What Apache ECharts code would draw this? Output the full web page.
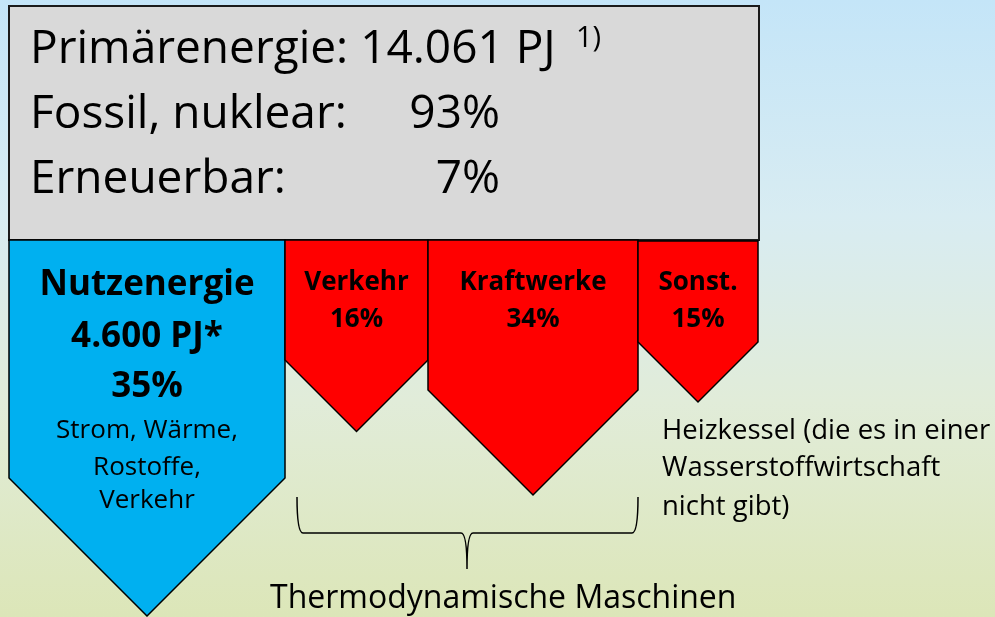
<!DOCTYPE html>
<html>
<head>
<meta charset="utf-8">
<script src="https://cdn.jsdelivr.net/npm/echarts@6/dist/echarts.min.js"></script>
<style>
  html, body { margin: 0; padding: 0; }
  #chart { width: 995px; height: 617px; }
</style>
</head>
<body>
<div id="chart"></div>
<script>
// Aufteilung der Primärenergie
const names = ["Nutzenergie", "Verkehr", "Kraftwerke", "Sonst."];
const shares = [35, 16, 34, 15];
const colors = ["#00b0f0", "#ff0000", "#ff0000", "#ff0000"];
// Pfeile: linker/rechter Rand und Schulter (Spitze liegt 45° darunter)
const arrowLeft = [9, 285, 428, 638];
const arrowRight = [285, 428, 638, 758];
const arrowShoulder = [478, 360, 390, 342];
const arrowTop = [240, 240, 240, 241];
// Kasten Primärenergie
const boxRange = [9, 759, 6, 240];
// Klammer "Thermodynamische Maschinen"
const brace = [297, 638, 497, 533, 569];

const FONT = "'Open Sans', sans-serif";
const mid = (baseline, size) => baseline - 0.36 * size;

let chart = echarts.init(document.getElementById("chart"));

function txt(str, x, baseline, size, opts) {
  opts = opts || {};
  return {
    type: "text",
    x: x,
    y: mid(baseline, size),
    z: 100,
    silent: true,
    style: {
      text: str,
      fill: "#000",
      fontFamily: FONT,
      fontSize: size,
      fontWeight: opts.bold ? "bold" : "normal",
      align: opts.align || "left",
      verticalAlign: "middle"
    }
  };
}

const option = {
  backgroundColor: new echarts.graphic.LinearGradient(0, 0, 0, 1, [
    { offset: 0, color: "#c4e5f8" },
    { offset: 0.35, color: "#d8ecf2" },
    { offset: 0.65, color: "#e1ecd9" },
    { offset: 1, color: "#dce6b8" }
  ]),
  animation: false,
  grid: { left: 0, right: 0, top: 0, bottom: 0 },
  xAxis: { type: "value", min: 0, max: 995, show: false },
  yAxis: { type: "value", min: 0, max: 617, inverse: true, show: false },
  series: [
    {
      // grauer Kasten
      type: "custom",
      data: [boxRange],
      renderItem(params, api) {
        const a = api.coord([api.value(0), api.value(2)]);
        const b = api.coord([api.value(1), api.value(3)]);
        return {
          type: "rect",
          shape: { x: a[0], y: a[1], width: b[0] - a[0], height: b[1] - a[1] },
          style: { fill: "#d9d9d9", stroke: "#1a1a1a", lineWidth: 2 }
        };
      }
    },
    {
      // Pfeile
      type: "custom",
      data: names.map((n, i) => [arrowLeft[i], arrowRight[i], arrowShoulder[i], arrowTop[i], shares[i]]),
      renderItem(params, api) {
        const i = params.dataIndex;
        const x0 = api.value(0), x1 = api.value(1), sh = api.value(2), top = api.value(3);
        const xm = (x0 + x1) / 2;
        const tip = sh + (x1 - x0) / 2;
        const pts = [[x0, top], [x1, top], [x1, sh], [xm, tip], [x0, sh]].map(p => api.coord(p));
        const c = api.coord([xm, top]);
        const children = [{
          type: "polygon",
          shape: { points: pts },
          style: { fill: colors[i], stroke: "#000", lineWidth: 1.5 }
        }];
        if (i === 0) {
          children.push(txt(names[i], c[0], 298, 35, { bold: true, align: "center" }));
          children.push(txt("4.600 PJ*", c[0], 350, 35, { bold: true, align: "center" }));
          children.push(txt(api.value(4) + "%", c[0], 400, 35, { bold: true, align: "center" }));
          children.push(txt("Strom, Wärme,", c[0], 440, 26, { align: "center" }));
          children.push(txt("Rostoffe,", c[0], 477, 26, { align: "center" }));
          children.push(txt("Verkehr", c[0], 510, 26, { align: "center" }));
        } else {
          children.push(txt(names[i], c[0], 292, 26, { bold: true, align: "center" }));
          children.push(txt(api.value(4) + "%", c[0], 329, 26, { bold: true, align: "center" }));
        }
        return { type: "group", children: children };
      }
    },
    {
      // geschweifte Klammer
      type: "custom",
      data: [brace],
      renderItem(params, api) {
        const x0 = api.value(0), x1 = api.value(1);
        const yTop = api.value(2), yBar = api.value(3), yTip = api.value(4);
        const xm = (x0 + x1) / 2 - 0.5;
        const P = (x, y) => api.coord([x, y]).map(v => v.toFixed(1)).join(",");
        const d = "M" + P(x0, yTop) + " Q" + P(x0, yBar) + " " + P(x0 + 6, yBar) +
          " L" + P(xm - 6, yBar) + " Q" + P(xm, yBar) + " " + P(xm, yTip) +
          " Q" + P(xm, yBar) + " " + P(xm + 6, yBar) +
          " L" + P(x1 - 6, yBar) + " Q" + P(x1, yBar) + " " + P(x1, yTop);
        return {
          type: "path",
          shape: { pathData: d },
          style: { fill: null, stroke: "#000", lineWidth: 1.5 }
        };
      }
    }
  ],
  graphic: [
    txt("Primärenergie: 14.061 PJ", 30, 66, 46),
    txt("1)", 576, 49, 29),
    txt("Fossil, nuklear:", 30, 131, 46),
    txt("93%", 500, 131, 46, { align: "right" }),
    txt("Erneuerbar:", 30, 196, 46),
    txt("7%", 500, 196, 46, { align: "right" }),
    txt("Heizkessel (die es in einer", 662, 441, 27.5),
    txt("Wasserstoffwirtschaft", 662, 478, 27.5),
    txt("nicht gibt)", 662, 517, 27.5),
    txt("Thermodynamische Maschinen", 270, 610, 32)
  ]
};

chart.setOption(option);
</script>
</body>
</html>
